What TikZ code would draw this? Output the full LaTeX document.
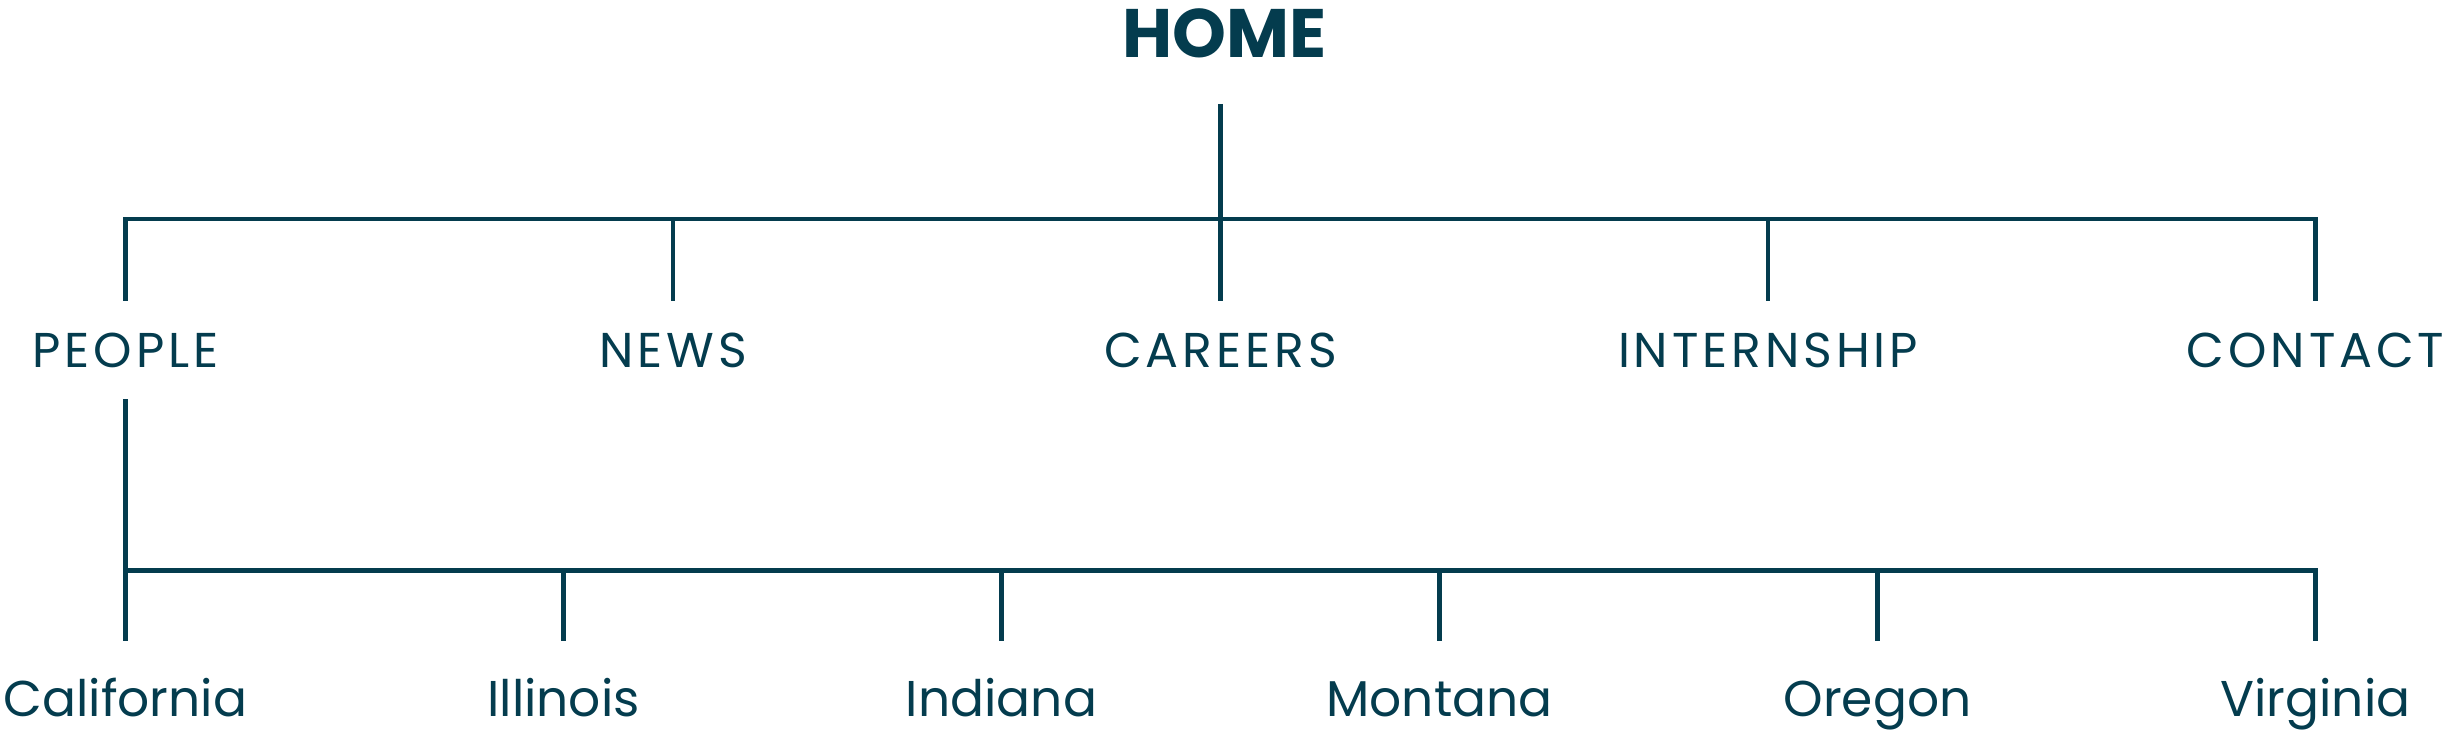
\documentclass[tikz,border=0pt]{standalone}
\definecolor{sitenavy}{RGB}{4,60,78}
\usepackage{fontspec}
\setmainfont{Poppins}
\newfontfamily\sectionfont[LetterSpace=8]{Poppins}
\usepackage{tikz}
\usetikzlibrary{positioning}

\begin{document}
\begin{tikzpicture}[x=0.01cm,y=-0.01cm,
        page/.style={anchor=base,inner sep=0pt,text=sitenavy,font=\sectionfont\fontsize{13.9}{16}\selectfont},
        state/.style={page,font=\fontsize{14.3}{17}\selectfont},
        link/.style={line width=1.25pt,sitenavy,line cap=butt,line join=miter}]
        \useasboundingbox (0,0) rectangle (2442,731);
        % root
        \node[page,font=\fontsize{19.5}{22}\bfseries] (home) at (1224.5,57.3) {HOME};
        \coordinate (home-out) at (1220.5,104);
        % sections
        \node[page] (people) at (125.5,367.7) {PEOPLE};
        \node[page] (news) at (673,367.7) {NEWS};
        \node[page] (careers) at (1220.5,367.7) {CAREERS};
        \node[page] (intern) at (1768,367.7) {INTERNSHIP};
        \node[page] (contact) at (2315.5,367.7) {CONTACT};
        % states
        \node[state] (cal) at (125.5,716.7) {California};
        \node[state] (ill) at (563.5,716.7) {Illinois};
        \node[state] (ind) at (1001.5,716.7) {Indiana};
        \node[state] (mon) at (1439.5,716.7) {Montana};
        \node[state] (ore) at (1877.5,716.7) {Oregon};
        \node[state] (vir) at (2315.5,716.7) {Virginia};
        % bus ends
        \coordinate (top-bus) at (0,219);
        \coordinate (low-bus) at (0,570.5);
        \coordinate (people-out) at (125.5,399.3);
        \foreach \n/\x in {people/125.5,news/673,careers/1220.5,intern/1768,contact/2315.5}
          \coordinate (\n-in) at (\x,300.7);
        \foreach \n/\x in {cal/125.5,ill/563.5,ind/1001.5,mon/1439.5,ore/1877.5,vir/2315.5}
          \coordinate (\n-in) at (\x,640.7);
        % connectors
        \draw[link] (people-in) |- (contact-in |- top-bus) -- (contact-in);
        \draw[link] (home-out) -- (careers-in);
        \foreach \n in {news,intern}
          \draw[link] (\n-in) -- (\n-in |- top-bus);
        \draw[link] (people-out) -- (cal-in);
        \draw[link] (people-out |- low-bus) -| (vir-in);
        \foreach \n in {ill,ind,mon,ore}
          \draw[link] (\n-in) -- (\n-in |- low-bus);
      \end{tikzpicture}
\end{document}
